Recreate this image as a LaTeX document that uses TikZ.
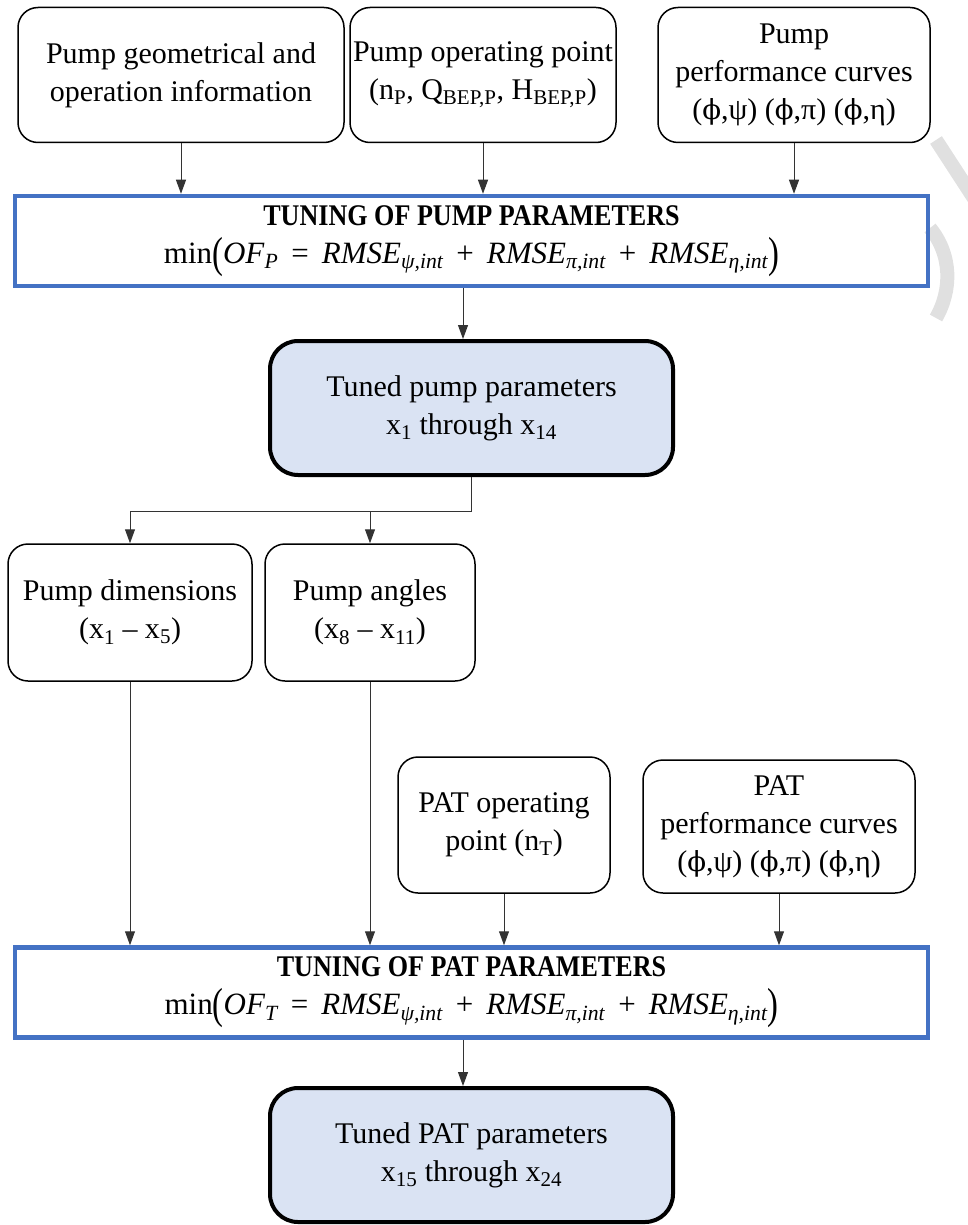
\documentclass[tikz,border=0pt]{standalone}
\usepackage{fontspec}
\setmainfont{Liberation Serif}
\newfontfamily\dvs[Scale=0.92]{DejaVu Serif}
\usepackage{graphicx}
\usetikzlibrary{arrows.meta}
\definecolor{bl}{HTML}{4472C4}
\definecolor{lb}{HTML}{DAE3F3}
\newcommand{\phis}{{\dvs ϕ}}
\newcommand{\curves}{(\phis,ψ) (\phis,π) (\phis,η)}
\newcommand{\bigpar}[1]{\raisebox{-0.14em}{\scalebox{1.05}[1.4]{#1}}}
\newcommand{\isub}[1]{\textsubscript{\itshape #1}}
\newcommand{\opsp}{\hspace{0.42em}}
\newcommand{\objf}[1]{{\fontsize{31}{37}\selectfont min\bigpar{(}\textit{OF}\isub{#1}\opsp=\opsp\textit{RMSE}\isub{ψ,int}\opsp+\opsp\textit{RMSE}\isub{π,int}\opsp+\opsp\textit{RMSE}\isub{η,int}\bigpar{)}}}
\begin{document}
\begin{tikzpicture}[x=1pt,y=-1pt,
  every node/.style={font=\fontsize{30}{38}\selectfont, align=center, inner sep=0pt},
  inbox/.style={draw=black, line width=1.5pt, rounded corners=20pt},
  tuning/.style={draw=bl, line width=4.5pt, minimum width=913pt, minimum height=90pt},
  tuned/.style={draw=black, fill=lb, line width=4pt, rounded corners=28pt, minimum width=403pt, minimum height=134pt},
  arr/.style={-{Triangle[width=10pt,length=14pt]}, line width=1pt, draw=black!80},
  wm/.style={line width=14pt, black!12}]
\useasboundingbox (0,0) rectangle (968,1225);
% faint watermark at the right edge
\draw[wm] (936,140) -- (975,200);
\draw[wm] (930,228) .. controls (952,255) and (952,290) .. (936,318);
% inputs
\node[inbox, minimum width=326pt, minimum height=135pt] (A) at (181,75) {Pump geometrical and\\operation information};
\node[inbox, minimum width=266pt, minimum height=135pt] (B) at (483,75) {Pump operating point\\(n\textsubscript{P}, Q\textsubscript{BEP,P}, H\textsubscript{BEP,P})};
\node[inbox, minimum width=272pt, minimum height=135pt] (C) at (794,75) {Pump\\performance curves\\\curves};
% tuning of pump
\node[tuning] (T1) at (471.5,241) {\scalebox{0.87}[1]{\bfseries TUNING OF PUMP PARAMETERS}\\ \objf{P}};
\node[tuned] (P) at (471.5,408) {Tuned pump parameters\\x\textsubscript{1} through x\textsubscript{14}};
\node[inbox, minimum width=244pt, minimum height=137pt] (D) at (130,612.5) {Pump dimensions\\(x\textsubscript{1} – x\textsubscript{5})};
\node[inbox, minimum width=210pt, minimum height=137pt] (G) at (370,612.5) {Pump angles\\(x\textsubscript{8} – x\textsubscript{11})};
\node[inbox, minimum width=212pt, minimum height=136pt] (O) at (504,825) {PAT operating\\point (n\textsubscript{T})};
\node[inbox, minimum width=272pt, minimum height=133pt] (Q) at (779,826.5) {PAT\\performance curves\\\curves};
\node[tuning] (T2) at (471.5,992.5) {\scalebox{0.87}[1]{\bfseries TUNING OF PAT PARAMETERS}\\ \objf{T}};
\node[tuned] (R) at (471.5,1155) {Tuned PAT parameters\\x\textsubscript{15} through x\textsubscript{24}};
% connectors
\draw[arr] (A.south) -- (A.south |- T1.north);
\draw[arr] (B.south) -- (B.south |- T1.north);
\draw[arr] (C.south) -- (C.south |- T1.north);
\draw[arr] ([xshift=-8.5pt]T1.south) -- ([xshift=-8.5pt]P.north);
\coordinate (J) at (471.5,511);
\draw[arr] (P.south) -- (J) -| (D.north);
\draw[arr] (J -| G.north) -- (G.north);
\draw[arr] (D.south) -- (D.south |- T2.north);
\draw[arr] (G.south) -- (G.south |- T2.north);
\draw[arr] (O.south) -- (O.south |- T2.north);
\draw[arr] (Q.south) -- (Q.south |- T2.north);
\draw[arr] ([xshift=-8.5pt]T2.south) -- ([xshift=-8.5pt]R.north);
\end{tikzpicture}
\end{document}
